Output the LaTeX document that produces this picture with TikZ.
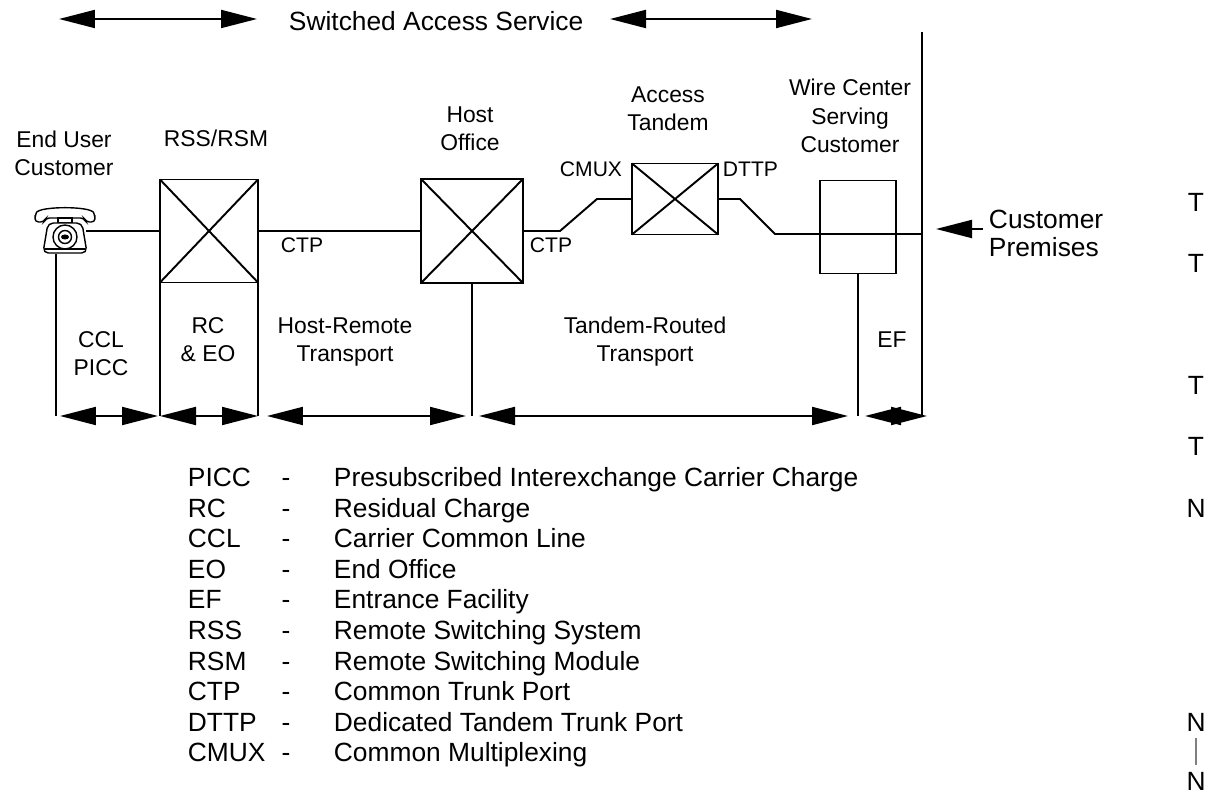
\documentclass[tikz,border=0pt]{standalone}
\usepackage{fontspec}
\setmainfont{Liberation Sans}
\usepackage{tikz}
\usetikzlibrary{arrows.meta}

\begin{document}
\begin{tikzpicture}[x=0.02cm, y=-0.02cm, line width=1.1pt,
       > = {Triangle[length=0.72cm,width=0.36cm]}]

\tikzstyle{lbl} = [inner sep=0pt, align=center, font=\fontsize{13}{16.5}\selectfont]
\tikzstyle{sml} = [inner sep=0pt, font=\fontsize{12}{14}\selectfont]
\tikzstyle{big} = [inner sep=0pt, align=left, font=\fontsize{15}{16.5}\selectfont]
\tikzstyle{sw}  = [draw, inner sep=0pt, outer sep=0pt]

\useasboundingbox (0,0) rectangle (1216,793);

    % switches
    \node[sw, minimum width=1.96cm, minimum height=2.06cm] (rss) at (209,231) {};
    \node[sw, minimum width=2.04cm, minimum height=2.08cm] (host) at (472,231) {};
    \node[sw, minimum width=1.72cm, minimum height=1.42cm] (tand) at (675,199) {};
    \node[sw, minimum width=1.52cm, minimum height=1.86cm] (wire) at (858,227) {};
    \foreach \b in {rss,host,tand}
        \draw (\b.north west) -- (\b.south east) (\b.north east) -- (\b.south west);

    % telephone
    \node[minimum width=1.2cm, minimum height=0.9cm, inner sep=0pt] (phone) at (65,231) {};
    \begin{scope}[shift={(phone.center)}, line width=0.8pt]
        \draw[fill=white, rounded corners=2pt] (-30,-9) -- (-30,-15)
            .. controls (-26,-25) and (26,-25) .. (30,-15) -- (30,-9) -- (21,-9)
            -- (19,-13) -- (-19,-13) -- (-21,-9) -- cycle;
        \draw[fill=white] (-7,-13) rectangle (7,-8);
        \draw[fill=white, rounded corners=3pt] (-22,22) -- (22,22) -- (17,-8) -- (-17,-8) -- cycle;
        \draw (0,6) circle (0.24cm);
        \draw (0,6) circle (0.13cm);
        \fill (0,6) ellipse (0.08cm and 0.05cm);
        \draw (-20,18) -- (20,18);
    \end{scope}

    % trunk connections
    \coordinate (hk1) at (560,231);
    \coordinate (hk2) at (597,199);
    \coordinate (dk1) at (740,199);
    \coordinate (dk2) at (775,234);
    \coordinate (walltop) at (922,32);
    \coordinate (wallbot) at (922,416);
    \draw ([xshift=-0.2cm]phone.east) -- (rss.west);
    \draw (rss.east) -- (host.west);
    \draw (host.east) -- (hk1) -- (hk2) -- (tand.west);
    \draw (tand.east) -- (dk1) -- (dk2) -- (dk2 -| walltop);
    \draw (walltop) -- (wallbot);

    % stems down to the rate arrows
    \coordinate (ps) at ([xshift=-0.18cm]phone.south);
    \coordinate (p0) at (ps |- wallbot);
    \coordinate (p1) at (rss.south west |- wallbot);
    \coordinate (p2) at (rss.south east |- wallbot);
    \coordinate (p3) at (host.south |- wallbot);
    \coordinate (p4) at (wire.south |- wallbot);
    \foreach \s/\e in {ps/p0, rss.south west/p1, rss.south east/p2, host.south/p3, wire.south/p4}
        \draw (\s) -- (\e);

    \draw[<->, shorten <=0.08cm, shorten >=0.04cm] (p0) -- (p1);
    \draw[<->] (p1) -- (p2);
    \draw[<->, shorten <=0.18cm, shorten >=0.12cm] (p2) -- (p3);
    \draw[<->, shorten <=0.14cm, shorten >=0.2cm] (p3) -- (p4);
    \draw[<->, shorten <=0.14cm, shorten >=-0.1cm] (p4) -- (wallbot);

    % heading
    \node[big, anchor=base west] (title) at (288,31) {Switched Access Service};
    \coordinate (t1) at (59,19);
    \coordinate (t2) at (257,19);
    \coordinate (t3) at (610,19);
    \coordinate (t4) at (812,19);
    \draw[<->] (t1) -- (t2);
    \draw[<->] (t3) -- (t4);

    % office labels (base = last line)
    \node[lbl, anchor=base] (eulbl) at (64,176) {End User\\Customer};
    \node[lbl, anchor=base] (rsslbl) at (216,147) {RSS/RSM};
    \node[lbl, anchor=base] (hostlbl) at (470,151) {Host\\Office};
    \node[lbl, anchor=base] (tandlbl) at (668,131) {Access\\Tandem};
    \node[lbl, anchor=base] (wirelbl) at (850,153) {Wire Center\\Serving\\Customer};
    \node[sml, anchor=base west] (ctp1) at (280,253) {CTP};
    \node[sml, anchor=base west] (ctp2) at (529,253) {CTP};
    \node[sml, anchor=base east] (cmux) at (623,177) {CMUX};
    \node[sml, anchor=base west] (dttp) at (722,177) {DTTP};

    % rate element labels
    \node[lbl, anchor=base] (ccl) at (101,376) {CCL\\PICC};
    \node[lbl, anchor=base] (rceo) at (208,362) {RC\\\& EO};
    \node[lbl, anchor=base] (hrt) at (345,362) {Host-Remote\\Transport};
    \node[lbl, anchor=base] (trt) at (645,362) {Tandem-Routed\\Transport};
    \node[lbl, anchor=base] (ef) at (892,348) {EF};

    % customer premises
    \node[big, anchor=base west] (cp) at (988,257) {Customer\\Premises};
    \coordinate (cptip) at (936,229);
    \draw[->] ([xshift=-0.1cm]cp.west |- cptip) -- (cptip);

    % legend
    \foreach \abbr/\desc [count=\i from 0] in {PICC/Presubscribed Interexchange Carrier Charge,
            RC/Residual Charge, CCL/Carrier Common Line, EO/End Office,
            EF/Entrance Facility, RSS/Remote Switching System,
            RSM/Remote Switching Module, CTP/Common Trunk Port,
            DTTP/Dedicated Tandem Trunk Port, CMUX/Common Multiplexing}
    {
        \node[big, anchor=base west] (ab\i) at (187,{486.5+30.6*\i}) {\abbr};
        \node[big, anchor=base] (dash\i) at (286,{486.5+30.6*\i}) {-};
        \node[big, anchor=base west] (desc\i) at (333,{486.5+30.6*\i}) {\desc};
    }

    % letters on the right edge
    \foreach \ltr/\k in {T/-9,T/-7,T/-3,T/-1,N/1,N/8}
        \node[big, anchor=base] (side\k) at (1196,{486.5+30.6*\k}) {\ltr};
    \node[big, anchor=base] (side10) at (1196,790) {N};
    \draw[gray, line width=0.6pt, shorten <=0.12cm, shorten >=0.12cm] (side8) -- (side10);

\end{tikzpicture}
\end{document}
